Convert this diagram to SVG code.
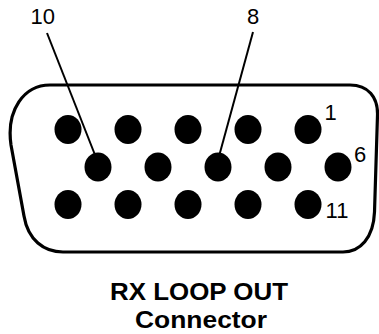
<svg xmlns="http://www.w3.org/2000/svg" width="379" height="334" viewBox="0 0 379 334">
<style>
.shell{fill:none;stroke:#000;stroke-width:3.2;stroke-linejoin:round}
.pin{fill:#000}
.lead{stroke:#000;stroke-width:2;fill:none}
.num{font-family:"Liberation Sans",Arial,sans-serif;font-size:22px;fill:#000}
.title{font-family:"Liberation Sans",Arial,sans-serif;font-size:23px;font-weight:bold;fill:#000}
</style>
<rect width="379" height="334" fill="#fff"/>
<g id="shell">
<path class="shell" d="M50,85 L350,85 C368,85 378,97 377.5,115 L374.5,212 C373.5,238 360,252 343,252 L63,252 C44,252 28,240 24,216 L11,145 C6,110 24,85 50,85 Z"/>
</g>
<g id="pins">
<g id="pin5"><ellipse class="pin" cx="68" cy="129.5" rx="13.5" ry="14.5"/></g>
<g id="pin4"><ellipse class="pin" cx="128" cy="129.5" rx="13.5" ry="14.5"/></g>
<g id="pin3"><ellipse class="pin" cx="188" cy="129.5" rx="13.5" ry="14.5"/></g>
<g id="pin2"><ellipse class="pin" cx="248" cy="129.5" rx="13.5" ry="14.5"/></g>
<g id="pin1"><ellipse class="pin" cx="308" cy="129.5" rx="13.5" ry="14.5"/></g>
<g id="pin10"><ellipse class="pin" cx="98" cy="167" rx="13.5" ry="14.5"/></g>
<g id="pin9"><ellipse class="pin" cx="158" cy="167" rx="13.5" ry="14.5"/></g>
<g id="pin8"><ellipse class="pin" cx="218" cy="167" rx="13.5" ry="14.5"/></g>
<g id="pin7"><ellipse class="pin" cx="278" cy="167" rx="13.5" ry="14.5"/></g>
<g id="pin6"><ellipse class="pin" cx="338" cy="167" rx="13.5" ry="14.5"/></g>
<g id="pin15"><ellipse class="pin" cx="68" cy="204.5" rx="13.5" ry="14.5"/></g>
<g id="pin14"><ellipse class="pin" cx="128" cy="204.5" rx="13.5" ry="14.5"/></g>
<g id="pin13"><ellipse class="pin" cx="188" cy="204.5" rx="13.5" ry="14.5"/></g>
<g id="pin12"><ellipse class="pin" cx="248" cy="204.5" rx="13.5" ry="14.5"/></g>
<g id="pin11"><ellipse class="pin" cx="308" cy="204.5" rx="13.5" ry="14.5"/></g>
</g>
<g id="connectors">
<line class="lead" x1="47" y1="33" x2="97" y2="160"/>
<line class="lead" x1="253" y1="32" x2="218" y2="160"/>
</g>
<g id="labels">
<text class="num" x="30.6" y="24">10</text>
<text class="num" x="247" y="24">8</text>
<text class="num" x="324.6" y="120">1</text>
<text class="num" x="354" y="162">6</text>
<text class="num" x="325.6" y="218">11</text>
</g>
<g id="title">
<text class="title" x="110" y="299.5" textLength="178" lengthAdjust="spacingAndGlyphs">RX LOOP OUT</text>
<text class="title" x="135" y="328" textLength="132" lengthAdjust="spacingAndGlyphs">Connector</text>
</g>
</svg>
